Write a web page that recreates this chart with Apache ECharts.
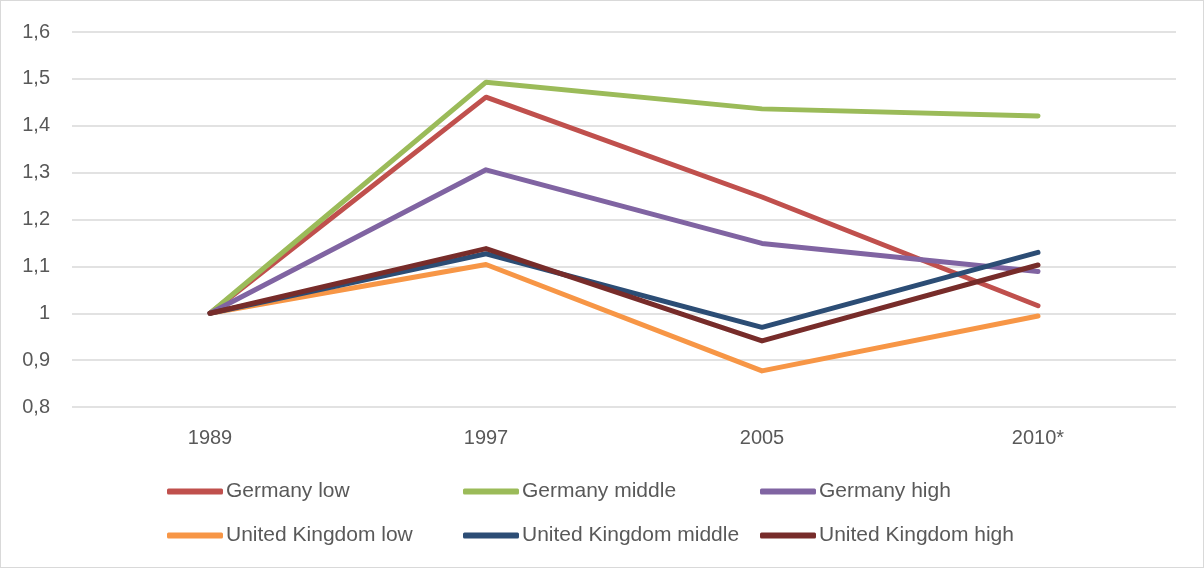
<!DOCTYPE html>
<html>
<head>
<meta charset="utf-8">
<script src="https://cdn.jsdelivr.net/npm/echarts@6/dist/echarts.min.js"></script>
<style>
  html, body { margin: 0; padding: 0; background: #fff; }
  #chart { width: 1202px; height: 566px; border: 1px solid #d9d9d9; }
</style>
</head>
<body>
<div id="chart"></div>
<script>
var years = ['1989', '1997', '2005', '2010*'];
var seriesNames = ['Germany low', 'Germany middle', 'Germany high',
    'United Kingdom low', 'United Kingdom middle', 'United Kingdom high'];
var germanyLow = [1, 1.461, 1.248, 1.016];
var germanyMiddle = [1, 1.493, 1.436, 1.421];
var germanyHigh = [1, 1.306, 1.149, 1.089];
var ukLow = [1, 1.104, 0.877, 0.994];
var ukMiddle = [1, 1.127, 0.970, 1.130];
var ukHigh = [1, 1.138, 0.941, 1.103];
var colors = ['#c0504d', '#9bbb59', '#8064a2', '#f79646', '#2c4d75', '#772c2a'];

var font = '"Liberation Sans", Arial, sans-serif';

function makeSeries(name, values, color) {
    return {
        name: name,
        type: 'line',
        data: values,
        symbol: 'none',
        color: color,
        lineStyle: { width: 5, color: color, cap: 'round', join: 'round' }
    }
}

function makeLegend(name, left, top) {
    return {
        data: [name],
        left: left,
        top: top,
        padding: 0,
        itemWidth: 56,
        itemHeight: 6,
        itemGap: 0,
        icon: 'roundRect',
        textStyle: { color: '#595959', fontSize: 21, fontFamily: font, padding: [0, 0, 0, -2] }
    }
}

var allValues = [germanyLow, germanyMiddle, germanyHigh, ukLow, ukMiddle, ukHigh];
var series = allValues.map(function (v, i) { return makeSeries(seriesNames[i], v, colors[i]) });

// legend laid out as two rows of three, like the original
var lefts = [166, 462, 759];
var tops = [480, 524];
var legends = seriesNames.map(function (n, i) {
    return makeLegend(n, lefts[i % 3], tops[Math.floor(i / 3)]);
});

var chart = echarts.init(document.getElementById('chart'));
chart.setOption({
    animation: false,
    grid: { left: 71, right: 27, top: 31, bottom: 160 },
    legend: legends,
    xAxis: {
        type: 'category',
        data: years,
        boundaryGap: true,
        axisLine: { show: false },
        axisTick: { show: false },
        axisLabel: { color: '#595959', fontSize: 20, fontFamily: font, margin: 21 }
    },
    yAxis: {
        type: 'value',
        min: 0.8,
        max: 1.6,
        interval: 0.1,
        axisLine: { show: false },
        axisTick: { show: false },
        splitLine: { lineStyle: { color: '#d9d9d9', width: 1.5 } },
        axisLabel: {
            color: '#595959', fontSize: 20, fontFamily: font, margin: 22,
            formatter: function (v) { return String(+v.toFixed(1)).replace('.', ','); }
        }
    },
    series: series
});
</script>
</body>
</html>
